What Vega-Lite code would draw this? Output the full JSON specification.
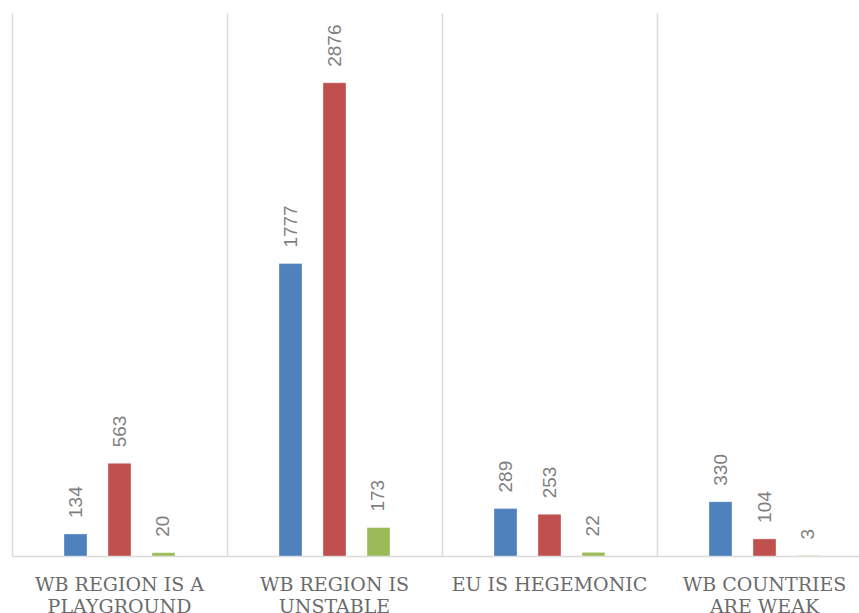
{
  "$schema": "https://vega.github.io/schema/vega-lite/v6.json",
  "autosize": {"type": "none"},
  "width": 847,
  "height": 543,
  "padding": {"left": 12, "top": 13, "right": 0, "bottom": 57},
  "background": "white",
  "config": {"view": {"stroke": null}},
  "data": {
    "values": [
      {"category": "WB REGION IS A PLAYGROUND", "series": "Series 1", "value": 134},
      {"category": "WB REGION IS A PLAYGROUND", "series": "Series 2", "value": 563},
      {"category": "WB REGION IS A PLAYGROUND", "series": "Series 3", "value": 20},
      {"category": "WB REGION IS UNSTABLE", "series": "Series 1", "value": 1777},
      {"category": "WB REGION IS UNSTABLE", "series": "Series 2", "value": 2876},
      {"category": "WB REGION IS UNSTABLE", "series": "Series 3", "value": 173},
      {"category": "EU IS HEGEMONIC", "series": "Series 1", "value": 289},
      {"category": "EU IS HEGEMONIC", "series": "Series 2", "value": 253},
      {"category": "EU IS HEGEMONIC", "series": "Series 3", "value": 22},
      {"category": "WB COUNTRIES ARE WEAK", "series": "Series 1", "value": 330},
      {"category": "WB COUNTRIES ARE WEAK", "series": "Series 2", "value": 104},
      {"category": "WB COUNTRIES ARE WEAK", "series": "Series 3", "value": 3}
    ]
  },
  "encoding": {
    "x": {
      "field": "category",
      "type": "nominal",
      "sort": null,
      "scale": {"range": [0, 860], "paddingInner": 0, "paddingOuter": 0},
      "axis": {
        "title": null,
        "bandPosition": 0,
        "grid": true,
        "gridColor": "#d9d9d9",
        "gridWidth": 1.5,
        "ticks": false,
        "domainColor": "#d9d9d9",
        "domainWidth": 1.5,
        "labelAngle": 0,
        "labelFont": "DejaVu Serif",
        "labelFontSize": 19,
        "labelColor": "#6b6b6b",
        "labelPadding": 19,
        "labelBaseline": "top",
        "labelLineHeight": 22,
        "labelLimit": 0,
        "labelOverlap": false,
        "labelBound": false,
        "labelFlush": false,
        "labelExpr": "datum.value == 'WB REGION IS A PLAYGROUND' ? ['WB REGION IS A', 'PLAYGROUND'] : datum.value == 'WB REGION IS UNSTABLE' ? ['WB REGION IS', 'UNSTABLE'] : datum.value == 'WB COUNTRIES ARE WEAK' ? ['WB COUNTRIES', 'ARE WEAK'] : datum.value"
      }
    },
    "xOffset": {
      "field": "series",
      "type": "nominal",
      "scale": {"range": [52, 163], "paddingInner": 0.477, "paddingOuter": 0}
    },
    "y": {
      "field": "value",
      "type": "quantitative",
      "scale": {"domain": [0, 3300], "nice": false},
      "axis": null
    }
  },
  "layer": [
    {
      "mark": {"type": "bar", "stroke": "white", "strokeOpacity": 0.35, "strokeWidth": 1},
      "encoding": {
        "color": {
          "field": "series",
          "type": "nominal",
          "scale": {"domain": ["Series 1", "Series 2", "Series 3"], "range": ["#4f81bd", "#c0504d", "#9bbb59"]},
          "legend": null
        }
      }
    },
    {
      "mark": {
        "type": "text",
        "angle": 270,
        "align": "left",
        "baseline": "middle",
        "dx": 16,
        "font": "Liberation Sans",
        "fontSize": 19,
        "color": "#7f7f7f"
      },
      "encoding": {
        "text": {"field": "value", "type": "quantitative", "format": "d"}
      }
    }
  ]
}
